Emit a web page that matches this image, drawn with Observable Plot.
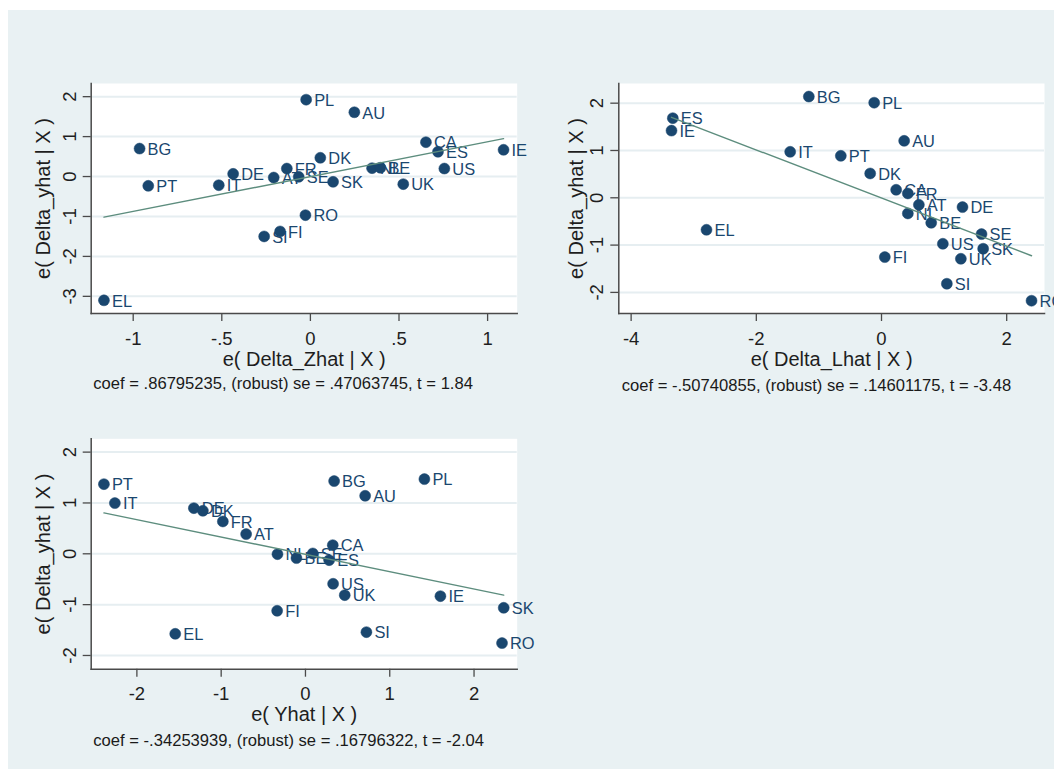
<!DOCTYPE html>
<html><head><meta charset="utf-8">
<script src="https://cdn.jsdelivr.net/npm/d3@7"></script>
<script src="https://cdn.jsdelivr.net/npm/@observablehq/plot@0.6"></script>
<style>
html,body{margin:0;padding:0;background:#fff;overflow:hidden}
#root{position:relative;width:1054px;height:769px;background:#fff;overflow:hidden;font-family:"Liberation Sans",Arial,sans-serif}
#bg{position:absolute;left:8px;top:10px;right:0;bottom:0;background:#e9f1f3}
.panel{position:absolute}
.note{position:absolute;font-size:16.6px;color:#1a1a1a;white-space:nowrap;line-height:1}
</style></head><body><div id="root"><div id="bg"></div></div>
<script>
// ---- Panel 1: e(Delta_yhat|X) vs e(Delta_Zhat|X)
const countries1 = ["PL","AU","BG","CA","ES","IE","DK","DE","FR","AT","SE","SK","NL","BE","US","UK","PT","IT","RO","FI","SI","EL"];
const zhat1 = [-0.024,0.248,-0.964,0.652,0.72,1.09,0.056,-0.436,-0.133,-0.207,-0.066,0.128,0.348,0.395,0.756,0.524,-0.915,-0.517,-0.028,-0.171,-0.261,-1.165];
const yhat1 = [1.925,1.61,0.70,0.86,0.62,0.67,0.47,0.067,0.20,-0.025,-0.008,-0.133,0.21,0.22,0.20,-0.19,-0.233,-0.217,-0.967,-1.375,-1.50,-3.10];
const xTicks1 = [-1,-0.5,0,0.5,1];
const xTickLabels1 = ["-1","-.5","0",".5","1"];
const yTicks1 = [-3,-2,-1,0,1,2];
const yTickLabels1 = ["-3","-2","-1","0","1","2"];
const note1 = "coef = .86795235, (robust) se = .47063745, t = 1.84";

// ---- Panel 2: e(Delta_yhat|X) vs e(Delta_Lhat|X)
const countries2 = ["BG","PL","ES","IE","AU","IT","PT","DK","CA","FR","AT","DE","NL","BE","EL","SE","US","SK","FI","UK","SI","RO"];
const lhat2 = [-1.161,-0.117,-3.334,-3.355,0.362,-1.459,-0.65,-0.181,0.234,0.421,0.597,1.294,0.421,0.794,-2.796,1.598,0.98,1.624,0.053,1.268,1.044,2.397];
const yhat2 = [2.14,2.01,1.683,1.42,1.204,0.972,0.887,0.514,0.169,0.092,-0.148,-0.197,-0.331,-0.528,-0.676,-0.768,-0.972,-1.077,-1.254,-1.289,-1.817,-2.176];
const xTicks2 = [-4,-2,0,2];
const xTickLabels2 = ["-4","-2","0","2"];
const yTicks2 = [-2,-1,0,1,2];
const yTickLabels2 = ["-2","-1","0","1","2"];
const note2 = "coef = -.50740855, (robust) se = .14601175, t = -3.48";

// ---- Panel 3: e(Delta_yhat|X) vs e(Yhat|X)
const countries3 = ["PT","IT","BG","PL","AU","DE","DK","FR","AT","CA","NL","SE","BE","ES","US","UK","IE","FI","SK","EL","SI","RO"];
const yhatX3 = [-2.391,-2.261,0.34,1.411,0.708,-1.324,-1.217,-0.98,-0.704,0.324,-0.332,0.087,-0.107,0.281,0.328,0.466,1.601,-0.336,2.352,-1.545,0.723,2.332];
const yhat3 = [1.37,0.997,1.43,1.469,1.141,0.898,0.846,0.636,0.387,0.17,-0.007,0.007,-0.085,-0.125,-0.59,-0.813,-0.833,-1.121,-1.062,-1.574,-1.541,-1.757];
const xTicks3 = [-2,-1,0,1,2];
const xTickLabels3 = ["-2","-1","0","1","2"];
const yTicks3 = [-2,-1,0,1,2];
const yTickLabels3 = ["-2","-1","0","1","2"];
const note3 = "coef = -.34253939, (robust) se = .16796322, t = -2.04";

const yTitle = "e( Delta_yhat | X )";
const xTitle1 = "e( Delta_Zhat | X )";
const xTitle2 = "e( Delta_Lhat | X )";
const xTitle3 = "e( Yhat | X )";

const FONT = '"Liberation Sans", Arial, sans-serif';
const NAVY = "#1a476f";
const FIT = "#5d8d7e";
const AXIS = "#4a4a4a";

function makePanel(cfg) {
  const data = cfg.countries.map((c, i) => ({c, x: cfg.xs[i], y: cfg.ys[i]}));
  const xMap = new Map(cfg.xTicks.map((t, i) => [t, cfg.xTickLabels[i]]));
  const yMap = new Map(cfg.yTicks.map((t, i) => [t, cfg.yTickLabels[i]]));
  const svg = Plot.plot({
    width: cfg.width, height: cfg.height,
    marginLeft: cfg.ml, marginRight: cfg.mr, marginTop: cfg.mt, marginBottom: cfg.mb,
    x: {domain: cfg.xDomain},
    y: {domain: cfg.yDomain},
    style: {background: "transparent", fontFamily: FONT, overflow: "visible"},
    marks: [
      Plot.frame({fill: "white", stroke: null}),
      Plot.gridY(cfg.yTicks, {stroke: "#e6eef1", strokeOpacity: 1, strokeWidth: 2}),
      Plot.axisX(cfg.xTicks, {tickSize: 8, tickPadding: 10, fontSize: 18.5, stroke: AXIS, fill: "#1e1e1e",
        tickFormat: d => xMap.get(d), label: cfg.xTitle, labelAnchor: "center", labelOffset: 52, labelArrow: false, strokeWidth: 1.3}),
      Plot.axisY(cfg.yTicks, {tickSize: 8, tickPadding: 7.7, tickRotate: -90, fontSize: 18.5, stroke: AXIS, fill: "#1e1e1e",
        tickFormat: d => yMap.get(d), label: yTitle, labelAnchor: "center", labelOffset: cfg.ylo, labelArrow: false, strokeWidth: 1.3}),
      Plot.frame({anchor: "left", stroke: AXIS, strokeWidth: 1.5}),
      Plot.frame({anchor: "bottom", stroke: AXIS, strokeWidth: 1.5}),
      Plot.dot(data, {x: "x", y: "y", r: 5.5, fill: NAVY, stroke: NAVY, strokeWidth: 0.5}),
      Plot.text(data, {x: "x", y: "y", text: "c", dx: 8, dy: 1, textAnchor: "start", fill: NAVY, fontSize: 16.4}),
      Plot.linearRegressionY(data, {x: "x", y: "y", stroke: FIT, strokeWidth: 1.4, ci: 0})
    ]
  });
  svg.classList.add("panel");
  svg.style.left = cfg.left + "px";
  svg.style.top = cfg.top + "px";
  svg.querySelectorAll("text").forEach(t => t.style.fontFamily = FONT);
  svg.querySelectorAll('g[aria-label="x-axis label"], g[aria-label="y-axis label"]').forEach(g => {
    g.setAttribute("font-size", "20");
    g.querySelectorAll("text").forEach(t => { t.setAttribute("font-size", "20"); t.style.fontSize = "20px"; });
  });
  const root = document.getElementById("root");
  root.appendChild(svg);
  const n = document.createElement("div");
  n.className = "note";
  n.textContent = cfg.note;
  n.style.left = cfg.noteLeft + "px";
  n.style.top = cfg.noteTop + "px";
  root.appendChild(n);
}

makePanel({countries: countries1, xs: zhat1, ys: yhat1, xDomain: [-1.237, 1.167], yDomain: [-3.43, 2.33],
  xTicks: xTicks1, xTickLabels: xTickLabels1, yTicks: yTicks1, yTickLabels: yTickLabels1, xTitle: xTitle1,
  left: 0, top: 70, width: 540, height: 320, ml: 90.7, mr: 23.3, mt: 13, mb: 77, ylo: 55.7,
  note: note1, noteLeft: 93.3, noteTop: 376.3});

makePanel({countries: countries2, xs: lhat2, ys: yhat2, xDomain: [-4.197, 2.604], yDomain: [-2.446, 2.416],
  xTicks: xTicks2, xTickLabels: xTickLabels2, yTicks: yTicks2, yTickLabels: yTickLabels2, xTitle: xTitle2,
  left: 530, top: 70, width: 524, height: 320, ml: 88.3, mr: 10, mt: 13, mb: 77, ylo: 49.8,
  note: note2, noteLeft: 621.7, noteTop: 377.5});

makePanel({countries: countries3, xs: yhatX3, ys: yhat3, xDomain: [-2.542, 2.512], yDomain: [-2.27, 2.262],
  xTicks: xTicks3, xTickLabels: xTickLabels3, yTicks: yTicks3, yTickLabels: yTickLabels3, xTitle: xTitle3,
  left: 0, top: 425, width: 560, height: 310, ml: 90.7, mr: 43.3, mt: 13.3, mb: 66.3, ylo: 55.7,
  note: note3, noteTop: 733.2, noteLeft: 93.3});
</script>
</body></html>
